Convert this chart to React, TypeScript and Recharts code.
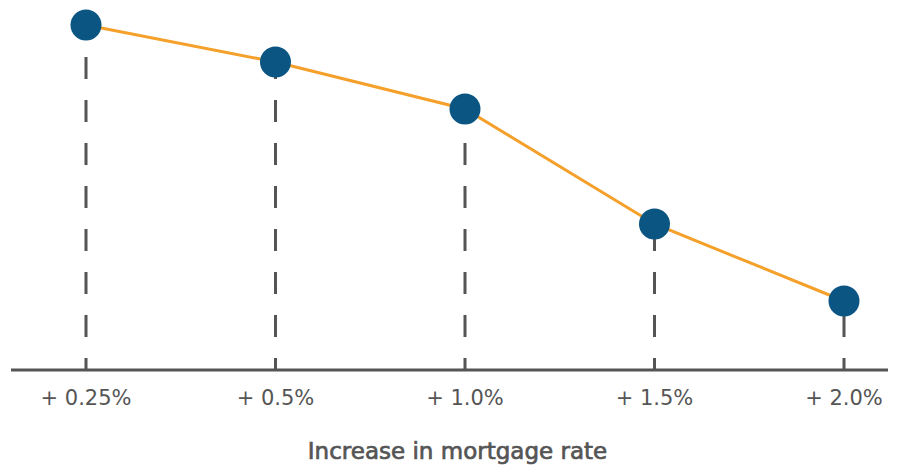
import React from 'react'
import { LineChart, Line, XAxis, YAxis, ReferenceLine } from 'recharts'

const categories = ['+ 0.25%', '+ 0.5%', '+ 1.0%', '+ 1.5%', '+ 2.0%']
const values = [345, 308, 261, 146, 69]

const data = categories.map((name, i) => ({ name, value: values[i] }))

const dashPattern = [12, 21, 22, 21, 22, 21, 22, 21, 22, 21, 22, 21, 22, 21, 22, 21, 22, 21].join(' ')

const App = () => {
    return (
        <LineChart
            width={883}
            height={457}
            data={data}
            margin={{ top: 2, right: 3, left: 3, bottom: 0 }}
        >
            <YAxis hide domain={[0, 360]} />
            <XAxis
                dataKey="name"
                axisLine={{ stroke: '#555555', strokeWidth: 3 }}
                tickLine={false}
                tickSize={0}
                tickMargin={20}
                height={95}
                padding={{ left: 75, right: 44 }}
                tick={{ fill: '#555555', fontSize: 21, fontFamily: 'DejaVu Sans' }}
                label={{
                    value: 'Increase in mortgage rate',
                    position: 'insideBottom',
                    offset: 6,
                    fill: '#555555',
                    stroke: '#555555',
                    strokeWidth: 0.7,
                    fontSize: 23,
                    fontFamily: 'DejaVu Sans',
                    dx: 8,
                }}
            />
            {data.map((d) => (
                <ReferenceLine
                    key={d.name}
                    segment={[{ x: d.name, y: 0 }, { x: d.name, y: d.value }]}
                    stroke="#555555"
                    strokeWidth={3}
                    strokeDasharray={dashPattern}
                />
            ))}
            <Line
                type="linear"
                dataKey="value"
                stroke="#f5a02a"
                strokeWidth={3}
                dot={{ r: 15.5, fill: '#0b5583', stroke: 'none', fillOpacity: 1 }}
                activeDot={false}
                isAnimationActive={false}
            />
        </LineChart>
    )
}

export default App
